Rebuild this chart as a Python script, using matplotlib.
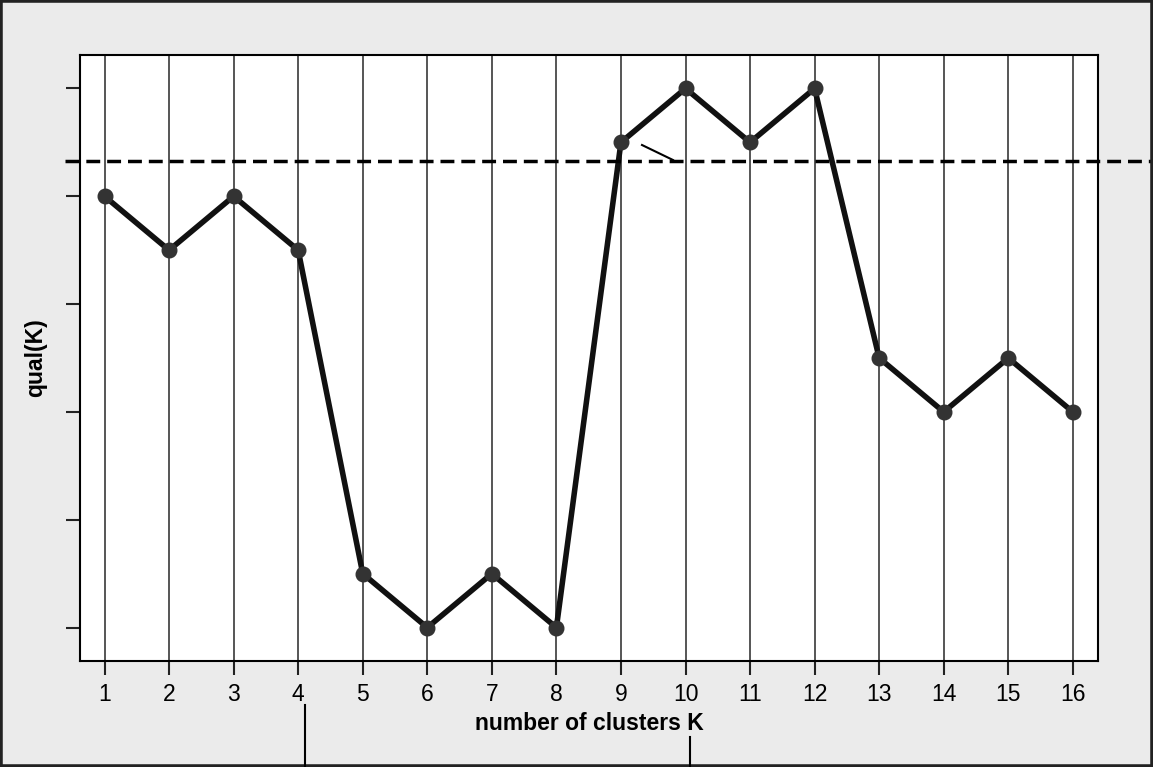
import numpy as np
import matplotlib.pyplot as plt
from matplotlib.patches import Rectangle

# cluster count and quality score
k_values = [1, 2, 3, 4, 5, 6, 7, 8, 9, 10, 11, 12, 13, 14, 15, 16]
qual = [4, 3.5, 4, 3.5, 0.5, 0, 0.5, 0, 4.5, 5, 4.5, 5, 2.5, 2, 2.5, 2]
threshold = 4.33
y_ticks = [0, 1, 2, 3, 4, 5]

plt.rcParams['font.family'] = ['Liberation Sans', 'DejaVu Sans']

W, H = 1153, 767
fig = plt.figure(figsize=(W / 100, H / 100), dpi=100, facecolor='#ebebeb')
ax = fig.add_axes([80 / W, 1 - 661 / H, (1098 - 80) / W, (661 - 55) / H])
ax.set_facecolor('white')

for k in k_values:
    ax.axvline(k, color='#555555', lw=1.4, zorder=1)

ax.plot(k_values, qual, color='#111111', lw=4, zorder=3)
ax.plot(k_values, qual, 'o', color='#333333', ms=10.5, zorder=4)

ax.set_xlim(0.62, 16.39)
ax.set_ylim(-0.31, 5.31)

# dashed threshold runs past the right edge of the axes
ax.plot([0.38, 17.5], [threshold, threshold], color='black', lw=2.5,
        ls=(0, (4, 2)), clip_on=False, zorder=5)

ax.set_xticks(k_values)
ax.set_yticks(y_ticks)
ax.set_yticklabels([])
ax.tick_params(axis='both', direction='out', length=10, width=1.5, color='#222222',
               labelsize=16.5, pad=6)
for s in ax.spines.values():
    s.set_linewidth(1.5)
    s.set_color('black')

ax.set_xlabel('number of clusters K', fontsize=16.5, fontweight='bold', labelpad=4)
ax.set_ylabel('qual(K)', fontsize=16.5, fontweight='bold', labelpad=8)

# stray annotation strokes
def fig_line(x0, y0, x1, y1, lw=1.5):
    fig.add_artist(plt.Line2D([x0 / W, x1 / W], [1 - y0 / H, 1 - y1 / H],
                              color='black', lw=lw))

fig_line(642, 145, 673, 160)
fig_line(305, 705, 305, 767)
fig_line(690, 737, 690, 767)

fig.add_artist(Rectangle((0, 0), 1, 1, transform=fig.transFigure, fill=False,
                         edgecolor='#222222', lw=4))

fig.savefig('out.png', dpi=100, facecolor=fig.get_facecolor())
